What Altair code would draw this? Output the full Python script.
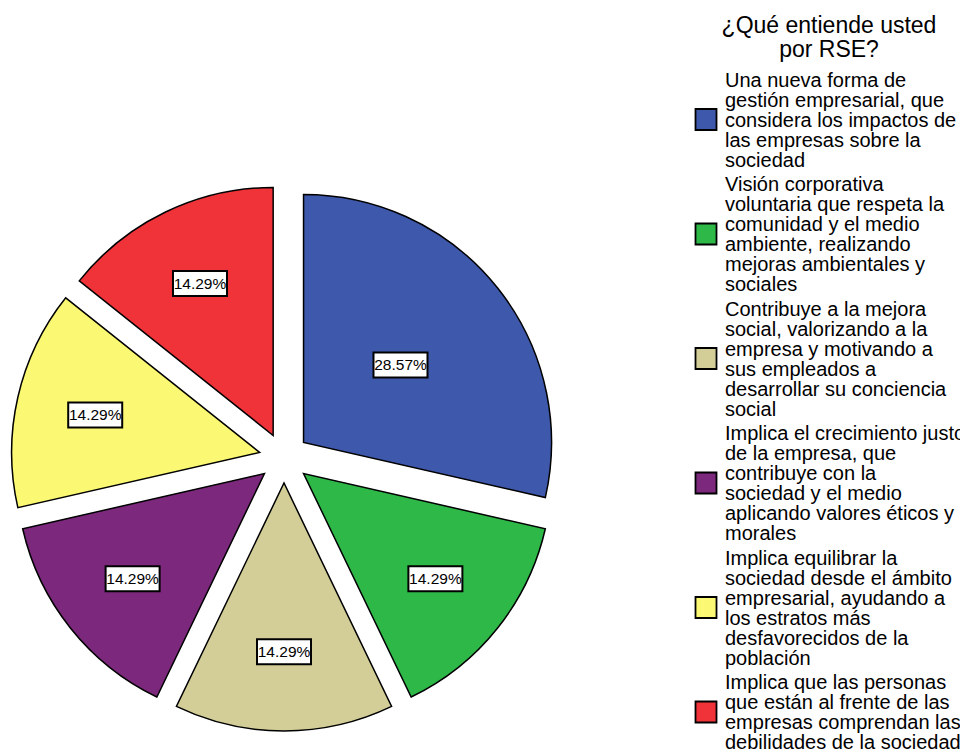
import altair as alt
import pandas as pd

# ---- data ----
categories = [
    "Una nueva forma de\ngestión empresarial, que\nconsidera los impactos de\nlas empresas sobre la\nsociedad",
    "Visión corporativa\nvoluntaria que respeta la\ncomunidad y el medio\nambiente, realizando\nmejoras ambientales y\nsociales",
    "Contribuye a la mejora\nsocial, valorizando a la\nempresa y motivando a\nsus empleados a\ndesarrollar su conciencia\nsocial",
    "Implica el crecimiento justo\nde la empresa, que\ncontribuye con la\nsociedad y el medio\naplicando valores éticos y\nmorales",
    "Implica equilibrar la\nsociedad desde el ámbito\nempresarial, ayudando a\nlos estratos más\ndesfavorecidos de la\npoblación",
    "Implica que las personas\nque están al frente de las\nempresas comprendan las\ndebilidades de la sociedad",
]
counts = [2, 1, 1, 1, 1, 1]
colors = ["#3E58AC", "#2EB848", "#D3CE97", "#7C287D", "#FBF873", "#EF3338"]
legend_title = ["¿Qué entiende usted", "por RSE?"]

# ---- layout / style constants ----
W, H = 960, 756
CX, CY = 284, 458      # pie centre (px)
R = 248                # pie radius (px)
EXPLODE = 25           # slice explosion (px)
BOX_HW, BOX_HH = 27, 12.5
FONT = "Liberation Sans"
LBL_FONT = "Liberation Sans Narrow, Arial Narrow, Liberation Sans"

# legend layout
LEG_SYM_X = 706
LEG_TXT_X = 725
LEG_Y0 = 70.5
LEG_LH = 20
LEG_GAP = 4.5
LEG_FS = 20
TITLE_X, TITLE_Y, TITLE_FS = 829, 15, 23

df = pd.DataFrame({"label": categories, "count": counts, "order": list(range(len(counts)))})
color_scale = alt.Scale(domain=categories, range=colors)

base = (
    alt.Chart(df)
    .transform_joinaggregate(total="sum(count)")
    .transform_window(cum="sum(count)", sort=[alt.SortField("order")], frame=[None, 0])
    .transform_calculate(a0="2*PI*(datum.cum-datum.count)/datum.total")
    .transform_calculate(a1="2*PI*datum.cum/datum.total")
    .transform_calculate(mid="(datum.a0+datum.a1)/2")
    .transform_calculate(pct="datum.count/datum.total")
    .transform_calculate(cx=f"{CX}+{EXPLODE}*sin(datum.mid)")
    .transform_calculate(cy=f"{CY}-{EXPLODE}*cos(datum.mid)")
    .transform_calculate(rl=f"{R}*(0.86-1.26*datum.pct)")
    .transform_calculate(lx="datum.cx+datum.rl*sin(datum.mid)")
    .transform_calculate(ly="datum.cy-datum.rl*cos(datum.mid)")
    .transform_calculate(bx0=f"datum.lx-{BOX_HW}", bx1=f"datum.lx+{BOX_HW}")
    .transform_calculate(by0=f"datum.ly-{BOX_HH}", by1=f"datum.ly+{BOX_HH}")
    .transform_calculate(txt="format(datum.pct,'.2%')")
)

arcs = base.mark_arc(outerRadius=R, stroke="black", strokeWidth=1.5).encode(
    theta=alt.Theta("a0:Q", scale=None),
    theta2="a1:Q",
    x=alt.X("cx:Q", scale=None, axis=None),
    y=alt.Y("cy:Q", scale=None, axis=None),
    color=alt.Color("label:N", scale=color_scale, legend=None),
)

boxes = base.mark_rect(fill="white", stroke="black", strokeWidth=2).encode(
    x=alt.X("bx0:Q", scale=None, axis=None),
    x2="bx1:Q",
    y=alt.Y("by0:Q", scale=None, axis=None),
    y2="by1:Q",
)

texts = base.mark_text(font=LBL_FONT, fontSize=15.5, color="black").encode(
    x=alt.X("lx:Q", scale=None, axis=None),
    y=alt.Y("ly:Q", scale=None, axis=None),
    text="txt:N",
)

# ---- legend (entries stacked by their line counts) ----
leg = (
    alt.Chart(df)
    .transform_calculate(lines="split(datum.label, '\\n')")
    .transform_calculate(nl="length(datum.lines)")
    .transform_window(cumlines="sum(nl)", sort=[alt.SortField("order")], frame=[None, 0])
    .transform_calculate(top=f"{LEG_Y0}+(datum.cumlines-datum.nl)*{LEG_LH}+datum.order*{LEG_GAP}")
    .transform_calculate(symy=f"datum.top+datum.nl*{LEG_LH}/2-1")
)

leg_sym = leg.mark_square(size=441, opacity=1, filled=True, stroke="black", strokeWidth=1.8).encode(
    x=alt.value(LEG_SYM_X),
    y=alt.Y("symy:Q", scale=None, axis=None),
    color=alt.Color("label:N", scale=color_scale, legend=None),
)

leg_txt = leg.mark_text(
    align="left", baseline="top", font=FONT, fontSize=LEG_FS, lineHeight=LEG_LH, color="black"
).encode(
    x=alt.value(LEG_TXT_X),
    y=alt.Y("top:Q", scale=None, axis=None),
    text=alt.Text("lines:N"),
)

leg_title = (
    alt.Chart(alt.Data(values=[{"k": 0}]))
    .mark_text(align="center", baseline="top", font=FONT, fontSize=TITLE_FS, lineHeight=24, color="black")
    .encode(x=alt.value(TITLE_X), y=alt.value(TITLE_Y), text=alt.value(legend_title))
)

chart = (
    alt.layer(arcs, boxes, texts, leg_sym, leg_txt, leg_title)
    .properties(width=W, height=H, autosize=alt.AutoSizeParams(type="none"), padding=0, background="white")
    .configure_view(stroke=None)
)

chart.save("out.html", embed_options={"renderer": "svg", "actions": False})
